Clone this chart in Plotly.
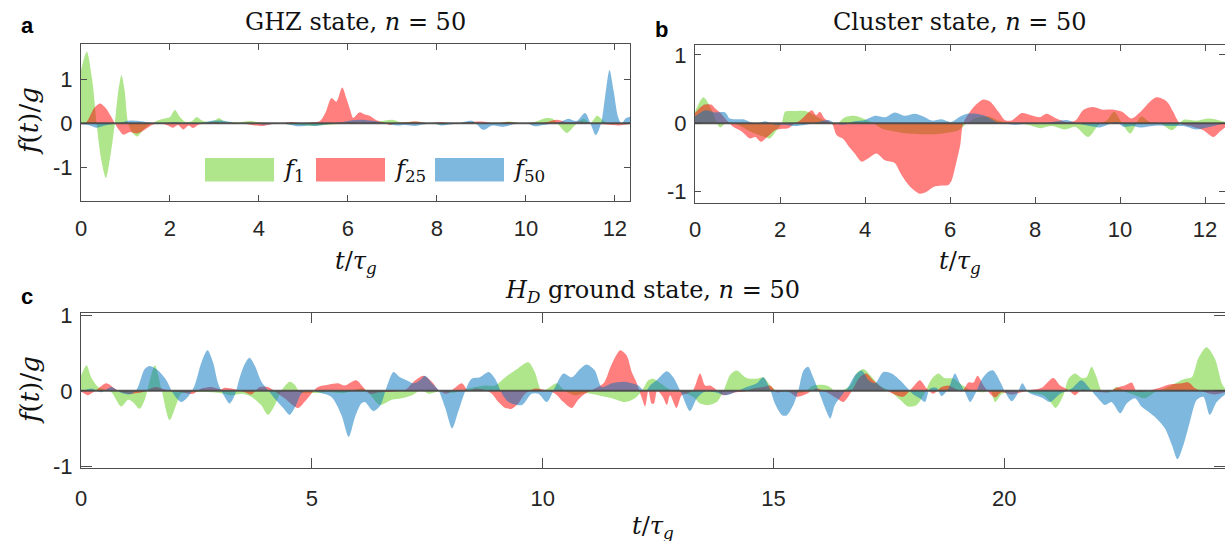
import plotly.graph_objects as go

# ---------------- data: control waveforms f_k(t)/g ----------------
# Panel a: GHZ state, n = 50
A_F1_T = [0, 0.13, 0.25, 0.35, 0.45, 0.56, 0.66, 0.76, 0.84, 0.91, 0.98, 1.06, 1.16, 1.27, 1.4, 1.55,
          1.7, 1.85, 2.0, 2.11, 2.22, 2.35, 2.5, 2.6, 2.72, 2.85, 3.0, 3.1, 3.22, 3.4, 3.6, 3.8, 4.0,
          4.3, 4.6, 4.9, 5.2, 5.5, 5.8, 6.1, 6.4, 6.7, 7.0, 7.2, 7.5, 7.8, 8.1, 8.4, 8.7, 9.0, 9.3,
          9.6, 9.9, 10.2, 10.45, 10.6, 10.75, 10.92, 11.1, 11.3, 11.45, 11.6, 11.75, 11.9, 12.1, 12.34]
A_F1_V = [1.2, 1.62, 1.0, 0.0, -0.8, -1.24, -0.75, 0.0, 0.75, 1.09, 0.75, 0.0, -0.22, -0.3, -0.15, -0.03,
          0.05, 0.1, 0.14, 0.3, 0.15, 0.03, 0.05, 0.14, 0.06, 0.03, 0.06, 0.12, 0.04, 0.02, 0.03, 0.05, 0.02,
          0.0, -0.02, -0.04, -0.06, -0.04, -0.02, 0.02, 0.0, 0.04, 0.08, 0.02, 0.04, 0.0, -0.03, 0.0, 0.03, 0.0, -0.02,
          0.04, 0.0, 0.03, 0.12, 0.1, -0.05, -0.22, -0.05, 0.1, 0.0, 0.17, 0.05, -0.02, 0.0, 0.02]

A_F25_T = [0, 0.1, 0.18, 0.3, 0.43, 0.55, 0.66, 0.76, 0.85, 0.95, 1.1, 1.25, 1.38, 1.5, 1.65, 1.8, 1.95,
           2.07, 2.18, 2.3, 2.42, 2.52, 2.65, 2.8, 3.0, 3.2, 3.4, 3.6, 3.9, 4.1, 4.3, 4.5, 4.73, 5.0, 5.2,
           5.37, 5.5, 5.63, 5.74, 5.87, 5.97, 6.05, 6.12, 6.2, 6.27, 6.38, 6.49, 6.64, 6.8, 6.93, 7.1, 7.3,
           7.55, 7.8, 8.1, 8.4, 8.7, 9.0, 9.3, 9.6, 9.9, 10.2, 10.45, 10.7, 10.95, 11.2, 11.5, 11.8, 12.1, 12.34]
A_F25_V = [-0.03, 0.0, 0.12, 0.35, 0.45, 0.35, 0.18, 0.0, -0.15, -0.26, -0.2, -0.23, -0.18, -0.1, -0.02, 0.0, -0.05,
           -0.1, -0.04, -0.14, -0.05, -0.11, -0.03, 0.0, 0.02, 0.0, -0.02, 0.0, -0.05, -0.06, -0.02, 0.0, 0.03, 0.0, 0.02,
           0.05, 0.25, 0.57, 0.49, 0.81, 0.55, 0.3, 0.12, 0.2, 0.25, 0.2, 0.17, 0.07, 0.02, -0.04, 0.0, 0.02,
           0.04, 0.0, 0.03, -0.02, 0.02, 0.04, 0.0, 0.03, 0.0, -0.02, 0.02, 0.08, 0.02, 0.04, 0.0, -0.03, -0.05, -0.02]

A_F50_T = [0, 0.2, 0.35, 0.5, 0.65, 0.8, 0.95, 1.1, 1.3, 1.5, 1.7, 1.9, 2.1, 2.3, 2.5, 2.7, 2.9, 3.1, 3.3,
           3.5, 3.7, 3.9, 4.1, 4.3, 4.5, 4.7, 4.9, 5.1, 5.3, 5.5, 5.7, 5.9, 6.1, 6.3, 6.5, 6.7, 6.9, 7.1,
           7.3, 7.5, 7.7, 7.9, 8.1, 8.3, 8.5, 8.8, 9.04, 9.25, 9.5, 9.75, 10.0, 10.2, 10.4, 10.6, 10.8,
           10.95, 11.14, 11.33, 11.45, 11.57, 11.69, 11.78, 11.88, 11.97, 12.07, 12.15, 12.25, 12.34]
A_F50_V = [-0.02, -0.05, -0.1, -0.06, -0.03, 0.0, 0.03, 0.06, 0.05, 0.02, -0.02, 0.0, 0.02, 0.0, -0.02, 0.0, 0.05, 0.06, 0.04,
           0.0, -0.02, 0.0, -0.03, -0.02, 0.0, -0.04, -0.07, -0.05, -0.06, -0.03, 0.0, 0.03, 0.07, 0.08, 0.06, 0.03, -0.02, -0.05,
           -0.04, -0.06, -0.03, 0.0, -0.05, -0.03, 0.0, 0.05, -0.15, -0.05, -0.08, -0.02, 0.0, -0.07, -0.04, 0.0, 0.04,
           0.1, 0.05, 0.23, 0.0, -0.27, 0.0, 0.6, 1.21, 0.75, 0.15, 0.0, 0.12, 0.15]

# Panel b: cluster state, n = 50
B_F1_T = [0, 0.2, 0.39, 0.59, 0.75, 0.9, 1.1, 1.3, 1.5, 1.65, 1.76, 1.9, 2.04, 2.12, 2.3, 2.6, 2.86, 3.1, 3.3,
          3.53, 3.76, 4.0, 4.2, 4.4, 4.7, 5.0, 5.3, 5.6, 5.9, 6.2, 6.4, 6.6, 6.9, 7.1, 7.3, 7.6, 7.9, 8.12,
          8.4, 8.7, 8.95, 9.25, 9.5, 9.7, 9.86, 10.05, 10.24, 10.5, 10.7, 10.95, 11.22, 11.49, 11.8, 12.1, 12.3, 12.47]
B_F1_V = [0.17, 0.38, 0.2, -0.06, 0.02, 0.0, -0.05, -0.12, -0.17, -0.2, -0.22, -0.12, 0.0, 0.17, 0.18, 0.18, 0.1, 0.02, -0.02,
          0.09, 0.11, 0.06, 0.0, -0.08, -0.12, -0.15, -0.16, -0.16, -0.14, -0.1, 0.0, 0.08, 0.1, 0.05, 0.02, 0.0, -0.03, -0.07,
          -0.04, -0.09, -0.05, -0.2, -0.02, 0.05, 0.17, 0.0, -0.15, 0.1, 0.02, 0.0, -0.1, 0.05, 0.04, 0.07, 0.05, 0.02]

B_F25_T = [0, 0.2, 0.4, 0.47, 0.6, 0.78, 0.9, 1.1, 1.29, 1.42, 1.55, 1.7, 1.88, 2.05, 2.2, 2.35, 2.47, 2.59, 2.75,
           2.85, 2.94, 3.05, 3.22, 3.33, 3.49, 3.61, 3.76, 3.92, 4.08, 4.27, 4.47, 4.7, 4.82, 4.94, 5.1, 5.29,
           5.45, 5.61, 5.8, 5.96, 6.04, 6.16, 6.24, 6.31, 6.47, 6.62, 6.78, 6.94, 7.14, 7.29, 7.45, 7.69, 7.9,
           8.12, 8.27, 8.5, 8.75, 8.95, 9.14, 9.37, 9.6, 9.84, 10.05, 10.27, 10.45, 10.63, 10.86, 11.1, 11.25,
           11.41, 11.7, 11.96, 12.2, 12.35, 12.47]
B_F25_V = [0.15, 0.27, 0.27, 0.22, 0.15, 0.02, -0.05, -0.12, -0.22, -0.2, -0.27, -0.2, -0.1, -0.08, -0.07, 0.0, 0.04, 0.11, 0.19,
           0.12, 0.17, 0.07, 0.0, -0.17, -0.23, -0.33, -0.44, -0.56, -0.51, -0.44, -0.54, -0.58, -0.71, -0.83, -0.95, -1.03,
           -1.0, -0.93, -0.91, -0.9, -0.83, -0.54, -0.32, 0.0, 0.17, 0.28, 0.35, 0.32, 0.17, 0.05, 0.04, 0.15, 0.12,
           0.09, 0.14, 0.07, 0.02, 0.04, 0.2, 0.24, 0.2, 0.2, 0.17, 0.07, 0.15, 0.27, 0.38, 0.32, 0.17,
           0.0, -0.05, -0.1, -0.2, -0.12, -0.06]

B_F50_T = [0, 0.24, 0.47, 0.71, 0.82, 1.0, 1.14, 1.3, 1.45, 1.65, 1.88, 2.1, 2.35, 2.6, 2.9, 3.14, 3.3, 3.49,
           3.75, 4.0, 4.24, 4.47, 4.7, 4.94, 5.18, 5.41, 5.57, 5.8, 6.02, 6.24, 6.4, 6.63, 6.86, 7.1, 7.35,
           7.57, 7.9, 8.2, 8.51, 8.75, 8.98, 9.29, 9.53, 9.75, 9.92, 10.08, 10.3, 10.47, 10.86, 11.2, 11.49,
           11.8, 12.05, 12.25, 12.47]
B_F50_V = [0.1, 0.19, 0.16, 0.16, 0.07, 0.06, 0.06, 0.02, 0.0, 0.03, -0.02, -0.02, -0.04, -0.02, 0.02, 0.05, 0.0, -0.02,
           0.03, 0.05, 0.11, 0.09, 0.16, 0.11, 0.14, 0.09, 0.04, 0.06, 0.02, 0.1, 0.14, 0.14, 0.1, 0.02, -0.01,
           -0.02, 0.0, 0.0, 0.03, 0.05, 0.0, -0.04, -0.06, -0.01, 0.02, -0.05, -0.04, -0.06, -0.03, -0.04, -0.04,
           -0.09, -0.06, -0.03, 0.0]

# Panel c: H_D ground state, n = 50
C_F1_T = [0, 0.12, 0.22, 0.37, 0.5, 0.66, 0.87, 1.02, 1.12, 1.27, 1.38, 1.49, 1.6, 1.74, 1.92, 2.06, 2.17, 2.4,
          2.8, 3.0, 3.26, 3.48, 3.69, 3.9, 4.05, 4.2, 4.34, 4.52, 4.63, 4.74, 5.0, 5.42, 5.7, 6.07, 6.2, 6.3,
          6.48, 6.73, 6.95, 7.17, 7.38, 7.53, 7.81, 8.03, 8.4, 8.75, 8.97, 9.19, 9.4, 9.69, 9.83, 9.98, 10.16,
          10.3, 10.48, 10.7, 10.92, 11.2, 11.5, 11.78, 12.0, 12.15, 12.29, 12.4, 12.55, 12.8, 13.0, 13.26,
          13.41, 13.59, 13.77, 13.92, 14.06, 14.2, 14.42, 14.64, 14.78, 14.93, 15.07, 15.36, 15.65, 15.86,
          16.07, 16.22, 16.37, 16.66, 16.8, 16.95, 17.09, 17.3, 17.52, 17.74, 17.92, 18.1, 18.25, 18.43,
          18.57, 18.7, 18.9, 19.1, 19.3, 19.55, 19.7, 19.8, 19.95, 20.2, 20.42, 20.6, 20.85, 21.0, 21.11,
          21.28, 21.39, 21.53, 21.68, 21.78, 21.89, 22.0, 22.11, 22.29, 22.43, 22.65, 22.83, 23.04, 23.26,
          23.48, 23.7, 23.92, 24.06, 24.2, 24.38, 24.56, 24.71, 24.78]
C_F1_V = [0.2, 0.34, 0.18, 0.05, 0.02, -0.02, -0.21, -0.12, -0.15, -0.24, -0.12, 0.14, 0.34, 0.03, -0.39, -0.19, -0.04, -0.02,
          -0.02, -0.03, -0.06, -0.04, -0.08, -0.19, -0.32, -0.19, 0.0, 0.12, 0.08, -0.02, -0.03, -0.02, -0.03, 0.03, 0.0, -0.08,
          -0.19, -0.12, -0.1, -0.06, 0.01, -0.04, 0.0, -0.03, 0.03, 0.07, 0.07, 0.18, 0.27, 0.38, 0.25, 0.0, 0.05,
          0.1, 0.0, -0.06, -0.03, -0.06, -0.1, -0.15, -0.1, 0.0, 0.14, 0.16, 0.1, 0.0, -0.02, -0.08,
          -0.17, -0.19, -0.15, 0.0, 0.21, 0.27, 0.17, 0.16, 0.18, 0.07, 0.0, -0.02, -0.02, 0.07,
          0.08, 0.05, -0.02, 0.07, 0.23, 0.29, 0.21, 0.07, 0.0, -0.12, -0.21, -0.19, -0.06, 0.16,
          0.23, 0.17, 0.16, 0.07, 0.0, -0.02, 0.0, -0.15, -0.04, -0.01, 0.0, -0.03, -0.06, -0.15, -0.23,
          -0.06, 0.16, 0.23, 0.17, 0.18, 0.32, 0.18, 0.0, -0.02, 0.05, -0.02, -0.06, -0.1, -0.02,
          0.03, 0.1, 0.16, 0.18, 0.43, 0.58, 0.43, 0.1, 0.03]

C_F25_T = [0, 0.08, 0.15, 0.29, 0.55, 0.73, 0.87, 1.09, 1.38, 1.6, 1.96, 2.17, 2.43, 2.61, 2.82, 3.04, 3.11, 3.33,
           3.55, 3.69, 3.87, 4.05, 4.27, 4.41, 4.7, 4.84, 4.99, 5.13, 5.35, 5.57, 5.71, 5.96, 6.11, 6.25, 6.47,
           6.8, 7.02, 7.24, 7.42, 7.6, 7.74, 7.92, 8.1, 8.25, 8.39, 8.54, 8.75, 8.9, 9.04, 9.19, 9.33, 9.47,
           9.62, 9.84, 10.05, 10.27, 10.45, 10.63, 10.77, 10.92, 11.13, 11.32, 11.5, 11.68, 11.82, 11.93,
           12.04, 12.15, 12.22, 12.29, 12.36, 12.41, 12.48, 12.6, 12.69, 12.76, 12.9, 13.01, 13.12, 13.26,
           13.41, 13.52, 13.63, 13.77, 13.91, 14.05, 14.2, 14.38, 14.56, 14.78, 14.93, 15.07, 15.29, 15.5,
           15.72, 15.93, 16.15, 16.37, 16.51, 16.66, 16.87, 17.01, 17.16, 17.38, 17.59, 17.81, 18.02, 18.17,
           18.32, 18.46, 18.64, 18.79, 18.93, 19.08, 19.22, 19.33, 19.42, 19.55, 19.69, 19.8, 19.94, 20.16,
           20.37, 20.59, 20.81, 21.06, 21.21, 21.39, 21.53, 21.67, 21.96, 22.11, 22.25, 22.43, 22.61, 22.76,
           22.87, 23.12, 23.41, 23.55, 23.84, 23.99, 24.14, 24.35, 24.56, 24.78]
C_F25_V = [-0.01, -0.04, -0.06, -0.01, 0.1, 0.03, -0.02, -0.04, -0.01, 0.05, -0.01, -0.02, -0.04, 0.03, 0.05, 0.02, 0.04, 0.02,
           -0.02, -0.05, 0.05, 0.05, -0.04, -0.1, -0.23, -0.15, -0.04, 0.05, 0.08, 0.1, 0.07, 0.14, 0.05, -0.04, -0.02,
           -0.01, 0.01, 0.14, 0.2, 0.12, 0.01, -0.04, 0.04, 0.1, 0.0, 0.03, 0.01, -0.04, -0.15, -0.23, -0.24, -0.17,
           -0.04, 0.03, 0.01, -0.04, -0.15, -0.23, -0.12, -0.04, 0.03, 0.1, 0.36, 0.54, 0.47, 0.25,
           0.1, -0.1, -0.21, 0.0, -0.17, -0.17, 0.0, -0.08, -0.19, -0.06, -0.23, -0.06, -0.04, 0.01,
           0.23, 0.07, 0.07, 0.01, -0.06, -0.04, -0.02, -0.01, 0.03, 0.05, 0.07, -0.02, 0.0, -0.08,
           -0.04, 0.03, -0.02, -0.1, -0.15, -0.04, 0.18, 0.23, 0.14, 0.03, -0.04, -0.08, 0.05, 0.14,
           0.03, -0.04, 0.05, 0.07, 0.03, -0.01, 0.11, 0.11, 0.2, 0.07, -0.04, -0.09, -0.02, -0.05,
           -0.02, 0.01, 0.04, 0.17, 0.07, 0.01, -0.06, 0.01, -0.01, -0.02, -0.02, 0.04, 0.07, 0.11,
           -0.01, 0.0, 0.05, 0.08, 0.1, 0.11, 0.03, -0.02, -0.05, -0.02]

C_F50_T = [0, 0.22, 0.44, 0.66, 0.84, 1.05, 1.2, 1.38, 1.49, 1.67, 1.85, 2.0, 2.17, 2.32, 2.46, 2.61, 2.74, 2.86,
           2.97, 3.11, 3.22, 3.33, 3.44, 3.55, 3.65, 3.76, 3.91, 4.05, 4.19, 4.38, 4.52, 4.66, 4.77, 4.92, 5.13,
           5.42, 5.64, 5.8, 5.93, 6.07, 6.15, 6.33, 6.48, 6.62, 6.77, 6.91, 7.05, 7.2, 7.34, 7.45, 7.6, 7.74,
           7.89, 8.04, 8.17, 8.32, 8.46, 8.64, 8.83, 8.97, 9.12, 9.26, 9.55, 9.76, 9.91, 10.09, 10.27, 10.45,
           10.63, 10.81, 10.95, 11.13, 11.28, 11.5, 11.78, 12.07, 12.22, 12.34, 12.47, 12.69, 12.83, 13.01,
           13.19, 13.34, 13.52, 13.73, 13.98, 14.2, 14.42, 14.64, 14.78, 14.93, 15.03, 15.18, 15.28, 15.43,
           15.54, 15.65, 15.75, 15.86, 16.0, 16.15, 16.23, 16.33, 16.48, 16.62, 16.77, 16.91, 17.06, 17.2,
           17.38, 17.56, 17.74, 17.88, 18.03, 18.17, 18.28, 18.39, 18.53, 18.64, 18.79, 18.93, 19.04, 19.15,
           19.26, 19.37, 19.51, 19.65, 19.76, 19.91, 20.02, 20.16, 20.27, 20.39, 20.52, 20.66, 20.81, 20.99,
           21.21, 21.46, 21.67, 21.85, 22.0, 22.18, 22.32, 22.51, 22.65, 22.83, 22.97, 23.12, 23.3, 23.48,
           23.63, 23.75, 23.88, 24.02, 24.17, 24.31, 24.45, 24.6, 24.78]
C_F50_V = [-0.02, 0.03, -0.02, 0.05, -0.02, -0.05, 0.01, 0.29, 0.33, 0.27, 0.14, -0.04, -0.15, -0.08, 0.07, 0.38, 0.54, 0.38,
           0.1, -0.08, -0.17, -0.06, 0.18, 0.36, 0.44, 0.34, 0.12, 0.01, -0.1, -0.23, -0.32, -0.19, -0.04, 0.01, -0.02,
           -0.08, -0.32, -0.61, -0.36, -0.17, -0.15, -0.27, -0.2, 0.05, 0.25, 0.18, 0.14, 0.1, 0.14, 0.2, 0.1, 0.01,
           -0.23, -0.5, -0.28, -0.01, 0.16, 0.18, 0.25, 0.16, -0.04, -0.15, -0.19, -0.04, -0.04, -0.15, 0.05, 0.23,
           0.18, 0.29, 0.35, 0.27, 0.05, 0.1, 0.12, 0.07, -0.01, 0.08, 0.14, 0.26, 0.18, -0.04,
           -0.27, -0.1, -0.01, -0.02, -0.06, -0.01, 0.05, 0.1, 0.18, 0.01, -0.17, -0.32, -0.33, -0.19,
           0.01, 0.27, 0.32, 0.18, -0.04, -0.28, -0.37, -0.19, -0.06, 0.05, 0.21, 0.27, 0.14, 0.1,
           0.25, 0.23, 0.14, 0.05, -0.05, -0.1, -0.15, 0.03, 0.04, -0.07, 0.03, 0.23, 0.1, -0.02,
           -0.15, -0.04, 0.15, 0.25, 0.27, 0.12, -0.02, -0.14, -0.06, 0.1, -0.02, -0.06, -0.09, -0.15,
           -0.04, 0.03, 0.14, 0.03, -0.08, -0.19, -0.15, -0.3, -0.17, -0.1, -0.21, -0.28, -0.37, -0.5,
           -0.72, -0.91, -0.72, -0.41, -0.12, -0.08, -0.32, -0.15, -0.05]

SERIES_NAMES = ["f1", "f25", "f50"]
SERIES_LABELS = ["<i>f</i><sub>1</sub>", "<i>f</i><sub>25</sub>", "<i>f</i><sub>50</sub>"]
FILL_COLORS = ["rgba(95,205,25,0.5)", "rgba(255,0,0,0.5)", "rgba(0,114,189,0.5)"]

PANELS = [
    {"key": "a", "title": "GHZ state, <i>n</i> = 50",
     "series": [(A_F1_T, A_F1_V), (A_F25_T, A_F25_V), (A_F50_T, A_F50_V)]},
    {"key": "b", "title": "Cluster state, <i>n</i> = 50",
     "series": [(B_F1_T, B_F1_V), (B_F25_T, B_F25_V), (B_F50_T, B_F50_V)]},
    {"key": "c", "title": "<i>H</i><sub><i>D</i></sub> ground state, <i>n</i> = 50",
     "series": [(C_F1_T, C_F1_V), (C_F25_T, C_F25_V), (C_F50_T, C_F50_V)]},
]

# ---------------- layout geometry (pixels of a 1225 x 541 canvas) ----------------
W, H = 1225, 541


def px_x(x):
    return x / W


def px_y(y):
    return 1 - y / H


AXES = {
    "a": dict(x0=81, x1=630, y0=44.3, y1=201.3, xr=[0, 12.34], yr=[-1.77, 1.79],
              xt=[0, 2, 4, 6, 8, 10, 12], xlen=6, ylen=6, xstand=7),
    "b": dict(x0=695, x1=1225, y0=44.7, y1=202.7, xr=[0, 12.47], yr=[-1.16, 1.15],
              xt=[0, 2, 4, 6, 8, 10, 12], xlen=6, ylen=6, xstand=7),
    "c": dict(x0=81, x1=1225, y0=313.3, y1=468.3, xr=[0, 24.78], yr=[-1.03, 1.03],
              xt=[0, 5, 10, 15, 20], xlen=10, ylen=11, xstand=10),
}

TICK_FONT = dict(family="Liberation Sans, Arial, sans-serif", size=22, color="#262626")
SERIF = "DejaVu Serif, serif"
AX_COLOR = "#4d4d4d"

fig = go.Figure()
layout = dict(width=W, height=H, margin=dict(l=0, r=0, t=0, b=0, autoexpand=False),
              paper_bgcolor="white", plot_bgcolor="white", showlegend=False)

shapes = []
annotations = []

for i, panel in enumerate(PANELS):
    k = panel["key"]
    g = AXES[k]
    xa = "xaxis" if i == 0 else f"xaxis{i + 1}"
    ya = "yaxis" if i == 0 else f"yaxis{i + 1}"
    xref = "x" if i == 0 else f"x{i + 1}"
    yref = "y" if i == 0 else f"y{i + 1}"

    for (t, v), name, col in zip(panel["series"], SERIES_NAMES, FILL_COLORS):
        fig.add_trace(go.Scatter(
            x=t, y=v, name=name, xaxis=xref, yaxis=yref, mode="lines",
            line=dict(width=0, shape="spline", smoothing=0.8, color=col),
            fill="tozeroy", fillcolor=col, hoverinfo="skip"))

    layout[xa] = dict(
        domain=[px_x(g["x0"]), px_x(g["x1"])], range=g["xr"], anchor=yref,
        tickvals=g["xt"], ticks="inside", ticklen=g["xlen"], tickwidth=1, tickcolor=AX_COLOR,
        showline=True, linecolor=AX_COLOR, linewidth=1.2, mirror="ticks",
        ticklabelstandoff=g["xstand"],
        showgrid=False, zeroline=False, tickfont=TICK_FONT, fixedrange=True)
    layout[ya] = dict(
        domain=[px_y(g["y1"]), px_y(g["y0"])], range=g["yr"], anchor=xref,
        tickvals=[-1, 0, 1], ticktext=["-1", "0", "1"],
        ticks="inside", ticklen=g["ylen"], tickwidth=1, tickcolor=AX_COLOR,
        showline=True, linecolor=AX_COLOR, linewidth=1.2, mirror="ticks",
        ticklabelstandoff=3,
        showgrid=False, zeroline=False, tickfont=TICK_FONT, fixedrange=True)

    # baseline at f = 0
    shapes.append(dict(type="line", xref=f"{xref} domain", yref=yref, x0=0, x1=1, y0=0, y1=0,
                       line=dict(color="rgba(70,70,70,0.9)", width=2), layer="above"))

    xc = (g["x0"] + g["x1"]) / 2
    ty = 291 if k == "c" else 22
    annotations.append(dict(text=panel["title"], x=px_x(xc), y=px_y(ty), xref="paper", yref="paper",
                            showarrow=False, xanchor="center", yanchor="middle",
                            font=dict(family=SERIF, size=24, color="#111")))

# panel letters
for letter, (lx, ly) in {"a": (27, 26), "b": (661, 29), "c": (27, 296)}.items():
    annotations.append(dict(text=f"<b>{letter}</b>", x=px_x(lx), y=px_y(ly), xref="paper", yref="paper",
                            showarrow=False, xanchor="center", yanchor="middle",
                            font=dict(family="Liberation Sans, Arial, sans-serif", size=22, color="black")))

# axis titles
XLABEL = "<i>t</i>/<i>τ</i><sub><i>g</i></sub>"
YLABEL = "<i>f</i>(<i>t</i>)/<i>g</i>"
for (cx, cy) in [(355.5, 262), (960, 262), (653, 527)]:
    annotations.append(dict(text=XLABEL, x=px_x(cx), y=px_y(cy), xref="paper", yref="paper",
                            showarrow=False, xanchor="center", yanchor="middle",
                            font=dict(family=SERIF, size=24, color="#111")))
for (cx, cy) in [(29, 121), (30, 390)]:
    annotations.append(dict(text=YLABEL, x=px_x(cx), y=px_y(cy), xref="paper", yref="paper",
                            showarrow=False, xanchor="center", yanchor="middle", textangle=-90,
                            font=dict(family=SERIF, size=26, color="#111")))

# legend inside panel a: wide colour patches followed by labels
LEGEND_X = [205, 316, 435]
for lx, lab, col in zip(LEGEND_X, SERIES_LABELS, FILL_COLORS):
    shapes.append(dict(type="rect", xref="paper", yref="paper",
                       x0=px_x(lx), x1=px_x(lx + 69), y0=px_y(181.5), y1=px_y(158),
                       fillcolor=col, line=dict(width=0), layer="above"))
    annotations.append(dict(text=lab, x=px_x(lx + 76), y=px_y(170), xref="paper", yref="paper",
                            showarrow=False, xanchor="left", yanchor="middle",
                            font=dict(family=SERIF, size=24, color="#111")))

layout["shapes"] = shapes
layout["annotations"] = annotations
fig.update_layout(**layout)

fig.write_html("out.html", post_script="document.body.style.margin='0';")
